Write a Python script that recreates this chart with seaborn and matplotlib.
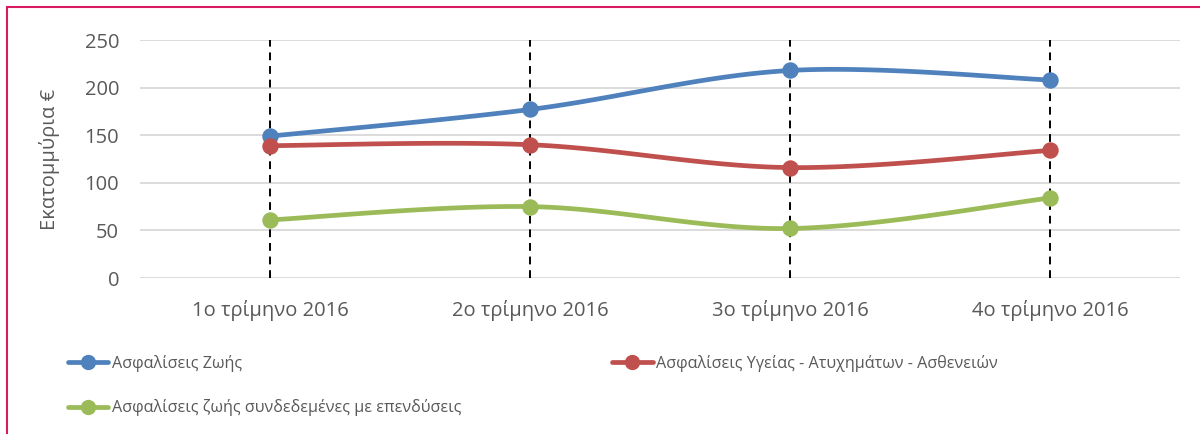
import matplotlib
matplotlib.use("Agg")
import matplotlib.pyplot as plt
from matplotlib.patches import Rectangle
from matplotlib.lines import Line2D
import numpy as np
import pandas as pd
import seaborn as sns

quarters = ["1ο τρίμηνο 2016", "2ο τρίμηνο 2016", "3ο τρίμηνο 2016", "4ο τρίμηνο 2016"]
life = [149, 177, 218, 208]
health = [139, 140, 116, 134]
unit_linked = [61, 75, 52, 84]
series_names = [
    "Ασφαλίσεις Ζωής",
    "Ασφαλίσεις Υγείας - Ατυχημάτων - Ασθενειών",
    "Ασφαλίσεις ζωής συνδεδεμένες με επενδύσεις",
]
colors = ["#4F81BD", "#C0504D", "#9BBB59"]


def smooth(y, n=40):
    # cardinal (Catmull-Rom) curve through the points, like Excel's smoothed line
    y = np.asarray(y, float)
    x = np.arange(len(y), dtype=float)
    px = np.concatenate([[x[0]], x, [x[-1]]])
    py = np.concatenate([[y[0]], y, [y[-1]]])
    xs, ys = [], []
    t = np.linspace(0, 1, n)
    for i in range(1, len(px) - 2):
        f = lambda a0, a1, a2, a3: 0.5 * ((2 * a1) + (-a0 + a2) * t
                                         + (2 * a0 - 5 * a1 + 4 * a2 - a3) * t ** 2
                                         + (-a0 + 3 * a1 - 3 * a2 + a3) * t ** 3)
        xs.append(f(*px[i - 1:i + 3]))
        ys.append(f(*py[i - 1:i + 3]))
    return np.concatenate(xs), np.concatenate(ys)


sns.set_theme(style="white")
plt.rcParams["font.family"] = ["Open Sans", "DejaVu Sans"]
text_color = "#595959"

fig = plt.figure(figsize=(12, 4.34), dpi=100)
ax = fig.add_axes([140 / 1200, 1 - 278 / 434, 1040 / 1200, 238 / 434])

for vals, name, c in zip([life, health, unit_linked], series_names, colors):
    sx, sy = smooth(vals)
    sns.lineplot(x=sx, y=sy, ax=ax, color=c, linewidth=3.4, sort=False, zorder=3)
    df = pd.DataFrame({"q": np.arange(len(vals)), "v": vals})
    sns.scatterplot(data=df, x="q", y="v", ax=ax, color=c, s=140, edgecolor=c,
                    linewidth=0, zorder=4)

for i in range(len(quarters)):
    ax.axvline(i, color="black", linestyle=(0, (4, 3)), linewidth=1.4, zorder=2)

ax.set_xlim(-0.5, 3.5)
ax.set_ylim(0, 250)
ax.set_yticks(range(0, 251, 50))
ax.set_xticks(range(len(quarters)))
ax.set_xticklabels(quarters)
ax.grid(axis="y", color="#D9D9D9", linewidth=1.3)
ax.set_axisbelow(True)
for s in ax.spines.values():
    s.set_visible(False)
ax.tick_params(axis="both", colors=text_color, labelsize=14.5, length=0)
ax.tick_params(axis="y", pad=15)
ax.tick_params(axis="x", pad=16)
ax.set_xlabel("")
ax.set_ylabel("Εκατομμύρια €", color=text_color, fontsize=14.5, labelpad=18)

handles = [Line2D([], [], color=c, linewidth=3.4, marker="o", markersize=10) for c in colors]
order = [0, 2, 1]
fig.legend([handles[i] for i in order], [series_names[i] for i in order],
           loc="upper left", bbox_to_anchor=(68 / 1200, 1 - 355 / 434), ncol=2,
           frameon=False, fontsize=11.6, handlelength=2.5, handletextpad=0.2,
           columnspacing=9.4, labelspacing=1.7, borderpad=0, borderaxespad=0,
           labelcolor=text_color)

fig.patches.append(Rectangle((7 / 1200, -0.1), 1.2, 1 - 7 / 434 + 0.1,
                             transform=fig.transFigure, fill=False,
                             edgecolor="#D81B60", linewidth=1.5))

fig.savefig("out.png", dpi=100)
